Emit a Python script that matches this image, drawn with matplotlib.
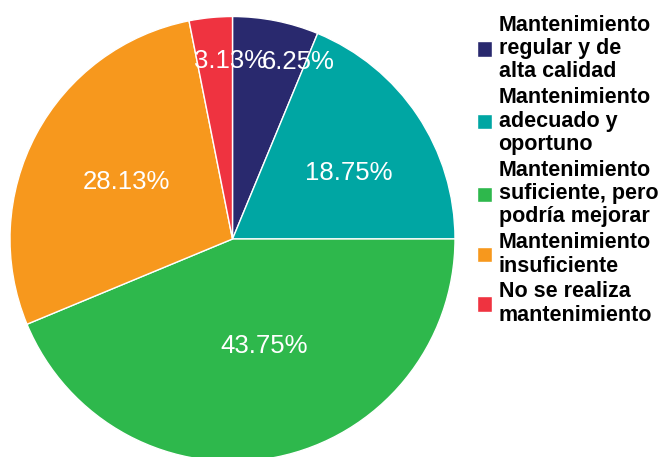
import numpy as np
import matplotlib.pyplot as plt

# Survey results: maintenance level
categories = [
    "Mantenimiento\nregular y de\nalta calidad",
    "Mantenimiento\nadecuado y\noportuno",
    "Mantenimiento\nsuficiente, pero\npodría mejorar",
    "Mantenimiento\ninsuficiente",
    "No se realiza\nmantenimiento",
]
percentages = [6.25, 18.75, 43.75, 28.13, 3.13]
colors = ["#29296E", "#00A6A3", "#2EB84C", "#F7981D", "#EF3340"]

# label placement: radius (fraction of pie radius) and angle shift in degrees
label_radius = [0.85, 0.60, 0.50, 0.54, 0.80]
label_shift = [-9, -4, 5, 0, -5]

fig = plt.figure(figsize=(6.61, 4.57), dpi=100)
ax = fig.add_axes([10 / 661, -4.5 / 457, 445 / 661, 445 / 457])

wedges, _ = ax.pie(percentages, colors=colors, startangle=90, counterclock=False,
                   wedgeprops=dict(edgecolor="white", linewidth=1.0))
ax.set_xlim(-1, 1)
ax.set_ylim(-1, 1)
ax.set_aspect("equal")
ax.axis("off")

# percentage labels
for w, pct, r, shift in zip(wedges, percentages, label_radius, label_shift):
    mid = np.deg2rad((w.theta1 + w.theta2) / 2 + shift)
    ax.text(r * np.cos(mid), r * np.sin(mid), f"{pct:.2f}%",
            ha="center", va="center", color="white", fontsize=18.5,
            family="Liberation Sans")

leg = fig.legend(wedges, categories, loc="upper left",
                 bbox_to_anchor=(477 / 661, 0.968), frameon=False,
                 borderpad=0, borderaxespad=0,
                 handlelength=0.7, handleheight=0.7, handletextpad=0.3,
                 labelspacing=0.22,
                 prop=dict(family="Liberation Sans", weight="bold", size=15.5))
for t in leg.get_texts():
    t.set_linespacing(1.15)
for p in leg.get_patches():
    p.set_edgecolor("white")

fig.savefig("out.png", dpi=100)
